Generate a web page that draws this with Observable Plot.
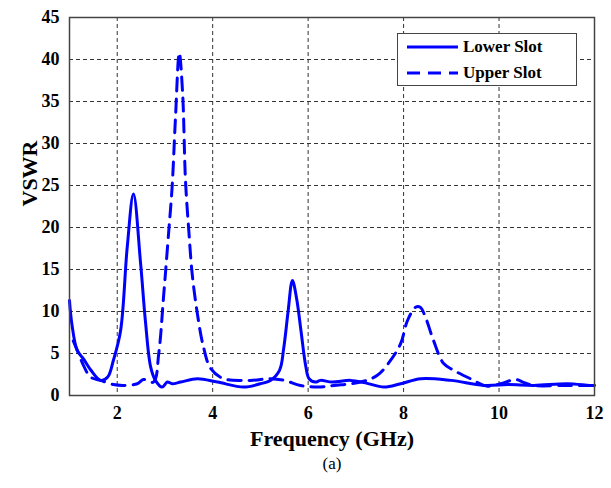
<!DOCTYPE html>
<html><head><meta charset="utf-8">
<script src="https://cdn.jsdelivr.net/npm/d3@7"></script>
<script src="https://cdn.jsdelivr.net/npm/@observablehq/plot@0.6"></script>
<style>
body{margin:0;background:#fff;}
#wrap{position:relative;width:611px;height:488px;font-family:"Liberation Serif",serif;}
#wrap svg text{font-family:"Liberation Serif",serif !important;}
#legend{position:absolute;left:397px;top:33px;width:180px;height:53px;border:1px solid #444;background:#fff;box-sizing:border-box;}
#legend .row{position:absolute;left:8px;display:flex;align-items:center;font-weight:bold;font-size:17px;font-family:"Liberation Serif",serif;}
</style></head>
<body><div id="wrap"></div>
<script>
const xTicks = [2,4,6,8,10,12];
const yTicks = [0,5,10,15,20,25,30,35,40,45];
const seriesNames = ["Lower Slot","Upper Slot"];

const lowerFreq = [1.0,1.05,1.16,1.3,1.45,1.65,1.8,1.92,2.07,2.21,2.34,2.49,2.59,2.7,2.8,2.94,3.05,3.15,3.33,3.68,4.1,4.65,5.0,5.21,5.4,5.49,5.58,5.67,5.76,5.85,5.95,6.02,6.15,6.26,6.5,6.89,7.2,7.59,7.94,8.36,8.99,9.68,10.2,10.73,11.43,11.9,12.0];
const lowerVSWR = [11.3,8.5,5.4,4.3,3.0,1.8,2.2,4.2,7.7,17.7,24,15.7,8.9,3.4,1.8,1.0,1.6,1.4,1.6,2.0,1.6,1.0,1.4,1.8,3.0,5.7,10,13.7,11.5,7.7,3.5,2.0,1.6,1.8,1.6,1.8,1.5,1.0,1.4,2.0,1.8,1.2,1.3,1.2,1.4,1.2,1.2];

const upperFreq = [1.08,1.16,1.3,1.44,1.65,1.92,2.14,2.42,2.55,2.76,2.87,2.97,3.08,3.15,3.22,3.3,3.37,3.43,3.5,3.57,3.68,3.81,3.96,4.23,4.79,5.21,5.5,5.84,6.19,6.54,7.1,7.45,7.73,7.94,8.08,8.25,8.35,8.46,8.63,8.84,9.05,9.4,9.76,10.03,10.35,10.5,10.73,11.36,11.9,12.0];
const upperVSWR = [6.5,5.4,3.5,2.2,1.8,1.3,1.2,1.4,1.9,1.6,5,11.7,19.6,24.8,33,40.8,36,25.6,19.6,14.5,9.7,5.7,3.2,2.0,1.8,2.0,1.8,1.2,1.0,1.2,1.6,2.4,4.2,6.2,8.9,10.5,10.5,9.3,6.5,3.8,3.0,2.0,1.1,1.4,1.9,1.6,1.2,1.2,1.2,1.2];

const lower = lowerFreq.map((f,i)=>({f, v: lowerVSWR[i]}));
const upper = upperFreq.map((f,i)=>({f, v: upperVSWR[i]}));

const blue = "#0000ff";
const serif = "Liberation Serif";
const chart = Plot.plot({
  width: 611,
  height: 488,
  marginLeft: 69,
  marginRight: 17,
  marginTop: 17,
  marginBottom: 93,
  style: {fontFamily: serif, fontSize: "18px", color: "#000", background: "#fff"},
  x: {domain: [1,12]},
  y: {domain: [0,45]},
  marks: [
    Plot.gridX(xTicks.filter(d=>d<12), {stroke:"#333", strokeOpacity:1, strokeDasharray:"4,3", strokeWidth:1}),
    Plot.gridY(yTicks.filter(d=>d>0 && d<45), {stroke:"#333", strokeOpacity:1, strokeDasharray:"4,3", strokeWidth:1}),
    Plot.lineY(lower, {x:"f", y:"v", stroke: blue, strokeWidth: 3, curve: "catmull-rom"}),
    Plot.lineY(upper, {x:"f", y:"v", stroke: blue, strokeWidth: 3, strokeDasharray: "13,8", curve: "catmull-rom"}),
    Plot.frame({stroke:"#444", strokeWidth:1.5}),
    Plot.axisX({ticks: xTicks, tickSize: 0, tickPadding: 11, fontWeight: "bold", fontSize: 18, fontFamily: serif, label: null}),
    Plot.axisY({ticks: yTicks, tickSize: 0, tickPadding: 10, fontWeight: "bold", fontSize: 18, fontFamily: serif, label: null}),
    Plot.text(["Frequency (GHz)"], {frameAnchor: "bottom", dy: 50, fontSize: 22, fontWeight: "bold", fontFamily: serif}),
    Plot.text(["VSWR"], {frameAnchor: "left", rotate: -90, dx: -40, fontSize: 22, fontWeight: "bold", fontFamily: serif}),
    Plot.text(["(a)"], {frameAnchor: "bottom", dy: 73, fontSize: 17, fontFamily: serif})
  ]
});
const wrap = document.getElementById("wrap");
wrap.appendChild(chart);

const legend = document.createElement("div");
legend.id = "legend";
const dashes = ["none","13,8"];
seriesNames.forEach((name,i)=>{
  const row = document.createElement("div");
  row.className = "row";
  row.style.top = (i===0 ? 3 : 29) + "px";
  row.innerHTML = `<svg width="54" height="20"><line x1="1" x2="52" y1="10" y2="10" stroke="${blue}" stroke-width="3" stroke-dasharray="${dashes[i]}"/></svg><span style="margin-left:3px">${name}</span>`;
  legend.appendChild(row);
});
wrap.appendChild(legend);
</script></body></html>
